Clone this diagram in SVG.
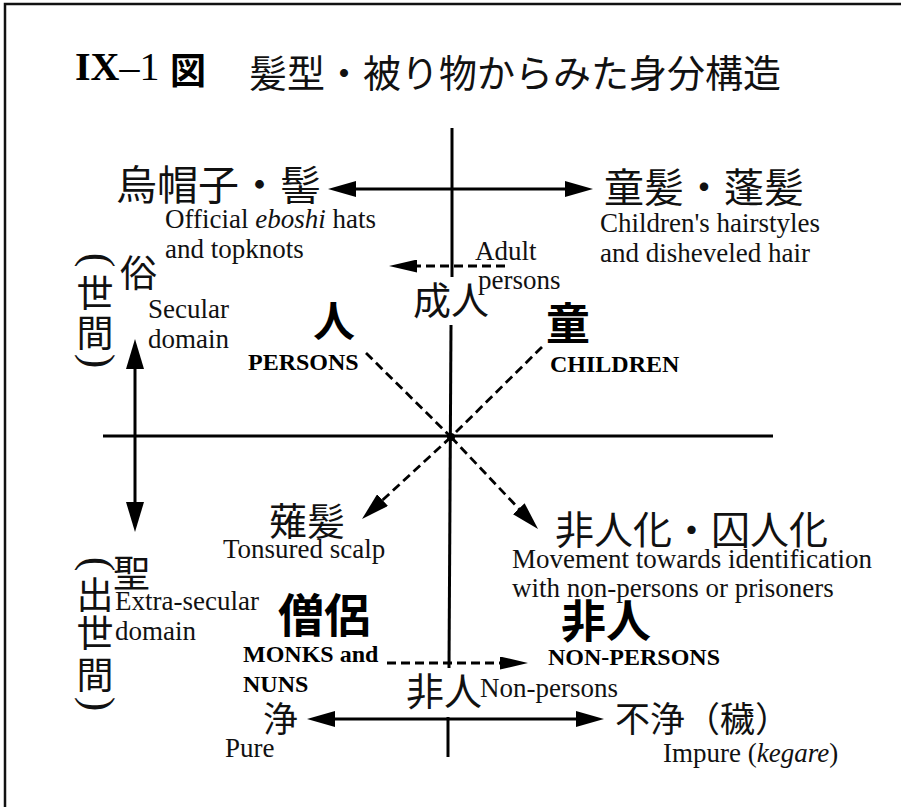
<svg xmlns="http://www.w3.org/2000/svg" width="901" height="807" viewBox="0 0 901 807">
<style>
.jp{font-family:"Noto Sans CJK JP","Noto Sans CJK SC",sans-serif;fill:#111}
.jpb{font-family:"Noto Sans CJK JP","Noto Sans CJK SC",sans-serif;font-weight:bold;fill:#000}
.en{font-family:"Liberation Serif",serif;font-size:27px;fill:#111}
.enb{font-family:"Liberation Serif",serif;font-size:24px;font-weight:bold;fill:#000}
.par{font-family:"Liberation Serif",serif;font-size:44px;fill:#111;text-anchor:middle}
.solid{stroke:#000;stroke-width:3;fill:none}
.dash{stroke:#000;stroke-width:2.8;fill:none;stroke-dasharray:9 5}
</style>
<defs>
<marker id="ah" viewBox="0 0 28 16" refX="8" refY="8" markerWidth="28" markerHeight="16" markerUnits="userSpaceOnUse" orient="auto-start-reverse"><path d="M0,0 L28,8 L0,16 Z" fill="#000"/></marker>
<marker id="ahv" viewBox="0 0 30 18" refX="10" refY="9" markerWidth="30" markerHeight="18" markerUnits="userSpaceOnUse" orient="auto-start-reverse"><path d="M0,0 L30,9 L0,18 Z" fill="#000"/></marker>
<marker id="ahd" viewBox="0 0 28 13" refX="8" refY="6.5" markerWidth="28" markerHeight="13" markerUnits="userSpaceOnUse" orient="auto"><path d="M0,0 L28,6.5 L0,13 Z" fill="#000"/></marker>
</defs>
<rect width="901" height="807" fill="#fff"/>
<path d="M5,807 V4 H901" stroke="#111" stroke-width="2.5" fill="none"/>

<g id="title">
<text x="75" y="80" font-family="Liberation Serif,serif" font-size="40" font-weight="bold" fill="#000">IX<tspan font-weight="normal">–1</tspan></text>
<text x="170" y="84" class="jpb" font-size="36">図</text>
<text x="249" y="87" class="jp" font-size="38">髪型・被り物からみた身分構造</text>
</g>

<g id="connectors">
<line class="solid" x1="452" y1="128" x2="452" y2="277"/>
<line class="solid" x1="451" y1="325" x2="449" y2="668"/>
<line class="solid" x1="448" y1="717" x2="448" y2="757"/>
<line class="solid" x1="103" y1="436" x2="773" y2="436"/>
<circle cx="451" cy="437" r="4" fill="#000"/>
<line class="solid" x1="348" y1="189" x2="573" y2="189" marker-start="url(#ah)" marker-end="url(#ah)"/>
<line class="solid" x1="327" y1="719" x2="584" y2="719" marker-start="url(#ah)" marker-end="url(#ah)"/>
<line class="solid" x1="135" y1="359" x2="135" y2="512" marker-start="url(#ahv)" marker-end="url(#ahv)"/>
<line class="dash" x1="505" y1="266" x2="409" y2="266" marker-end="url(#ahd)"/>
<line class="dash" x1="387" y1="663" x2="508" y2="663" marker-end="url(#ahd)"/>
<line class="dash" x1="366" y1="353" x2="451" y2="437"/>
<line class="dash" x1="542" y1="347" x2="451" y2="437"/>
<line class="dash" x1="451" y1="437" x2="376.7" y2="505.5" marker-end="url(#ah)"/>
<line class="dash" x1="451" y1="437" x2="524.3" y2="514.5" marker-end="url(#ah)"/>
</g>

<g id="eboshi">
<text x="116" y="200" class="jp" font-size="41">烏帽子・髻</text>
<text x="165" y="228" class="en">Official <tspan font-style="italic">eboshi</tspan> hats</text>
<text x="165" y="258" class="en">and topknots</text>
</g>

<g id="warawa">
<text x="604" y="202" class="jp" font-size="40">童髪・蓬髪</text>
<text x="600" y="232" class="en">Children's hairstyles</text>
<text x="600" y="262" class="en">and disheveled hair</text>
</g>

<g id="adult">
<text x="475" y="260" class="en">Adult</text>
<text x="478" y="289" class="en">persons</text>
<text x="413" y="314" class="jp" font-size="38">成人</text>
</g>

<g id="secular">
<text class="par" transform="translate(95,260) rotate(90)" x="0" y="11">(</text>
<text x="95" y="307" class="jp" font-size="37" text-anchor="middle">世</text>
<text x="95" y="347" class="jp" font-size="37" text-anchor="middle">間</text>
<text class="par" transform="translate(95,361) rotate(90)" x="0" y="11">)</text>
<text x="120" y="287" class="jp" font-size="37">俗</text>
<text x="148" y="318" class="en">Secular</text>
<text x="148" y="348" class="en">domain</text>
</g>

<g id="persons">
<text x="313" y="337" class="jpb" font-size="42">人</text>
<text x="248" y="370" class="enb">PERSONS</text>
</g>

<g id="children">
<text x="546" y="340" class="jpb" font-size="44">童</text>
<text x="550" y="372" class="enb">CHILDREN</text>
</g>

<g id="tonsure">
<text x="269" y="535" class="jp" font-size="38">薙髪</text>
<text x="223" y="558" class="en">Tonsured scalp</text>
</g>

<g id="hininka">
<text x="555" y="544" class="jp" font-size="39">非人化・囚人化</text>
<text x="512" y="568" class="en">Movement towards identification</text>
<text x="512" y="597" class="en">with non-persons or prisoners</text>
</g>

<g id="extrasecular">
<text class="par" transform="translate(95,564) rotate(90)" x="0" y="11">(</text>
<text x="95" y="609" class="jp" font-size="37" text-anchor="middle">出</text>
<text x="95" y="647" class="jp" font-size="37" text-anchor="middle">世</text>
<text x="95" y="689" class="jp" font-size="37" text-anchor="middle">間</text>
<text class="par" transform="translate(95,704) rotate(90)" x="0" y="11">)</text>
<text x="113" y="587" class="jp" font-size="37">聖</text>
<text x="115" y="610" class="en">Extra-secular</text>
<text x="115" y="640" class="en">domain</text>
</g>

<g id="monks">
<text x="278" y="632" class="jpb" font-size="46">僧侶</text>
<text x="243" y="662" class="enb">MONKS and</text>
<text x="243" y="692" class="enb">NUNS</text>
</g>

<g id="nonpersons">
<text x="561" y="638" class="jpb" font-size="45">非人</text>
<text x="548" y="665" class="enb">NON-PERSONS</text>
</g>

<g id="hinin-axis">
<text x="406" y="705" class="jp" font-size="38">非人</text>
<text x="480" y="697" class="en">Non-persons</text>
</g>

<g id="pure">
<text x="263" y="732" class="jp" font-size="35">浄</text>
<text x="225" y="757" class="en">Pure</text>
</g>

<g id="impure">
<text x="615" y="732" class="jp" font-size="35">不浄（穢）</text>
<text x="663" y="762" class="en">Impure (<tspan font-style="italic">kegare</tspan>)</text>
</g>
</svg>
